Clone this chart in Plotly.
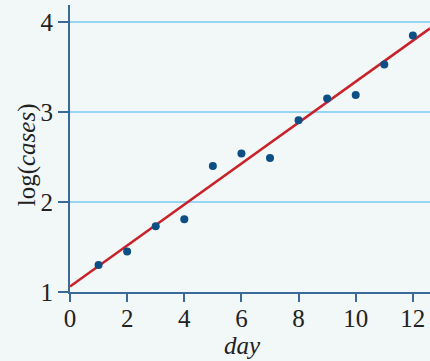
import plotly.graph_objects as go

days = [1, 2, 3, 4, 5, 6, 7, 8, 9, 10, 11, 12]
log_cases = [1.30, 1.45, 1.73, 1.81, 2.40, 2.54, 2.49, 2.91, 3.15, 3.19, 3.53, 3.85]
fit_x = [0, 12.6]
fit_y = [1.06, 3.93]
x_ticks = [0, 2, 4, 6, 8, 10, 12]
y_ticks = [1, 2, 3, 4]

BG = "#f2f7f7"
AXIS = "#3a6b98"
GRID = "#96d6f2"
DOT = "#0d4e85"
RED = "#c8222b"
FONT = "Liberation Serif"
TXT = "#222222"

fig = go.Figure()
fig.add_trace(go.Scatter(x=fit_x, y=fit_y, mode="lines",
                         line=dict(color=RED, width=2.5), hoverinfo="skip"))
fig.add_trace(go.Scatter(x=days, y=log_cases, mode="markers",
                         marker=dict(color=DOT, size=8)))

fig.update_layout(
    width=430, height=361,
    margin=dict(l=70, r=0, t=5, b=69),
    paper_bgcolor=BG, plot_bgcolor=BG,
    showlegend=False,
    font=dict(family=FONT, size=24, color=TXT),
    xaxis=dict(
        range=[0, 12.6], tickmode="array", tickvals=x_ticks,
        showgrid=False, zeroline=False, automargin=False,
        showline=True, linecolor=AXIS, linewidth=2,
        ticks="outside", ticklen=8, tickwidth=2, tickcolor=AXIS,
        ticklabelstandoff=-5,
        tickfont=dict(family=FONT, size=25, color=TXT),
    ),
    yaxis=dict(
        range=[1, 4.19], tickmode="array", tickvals=y_ticks,
        showgrid=True, gridcolor=GRID, gridwidth=2, zeroline=False, automargin=False,
        showline=True, linecolor=AXIS, linewidth=2,
        ticks="outside", ticklen=10, tickwidth=2, tickcolor=AXIS,
        tickfont=dict(family=FONT, size=25, color=TXT),
    ),
    annotations=[
        dict(text="<i>day</i>", xref="paper", yref="paper", x=0.48, y=-0.186,
             xanchor="center", yanchor="middle", showarrow=False,
             font=dict(family=FONT, size=25, color=TXT)),
        dict(text="log(<i>cases</i>)", xref="paper", yref="paper", x=-0.119, y=0.477,
             xanchor="center", yanchor="middle", showarrow=False, textangle=-90,
             font=dict(family=FONT, size=25, color=TXT)),
    ],
)

fig.write_html("out.html", config={"displayModeBar": False},
               post_script="document.body.style.margin='0';document.body.style.background='%s';" % BG)
